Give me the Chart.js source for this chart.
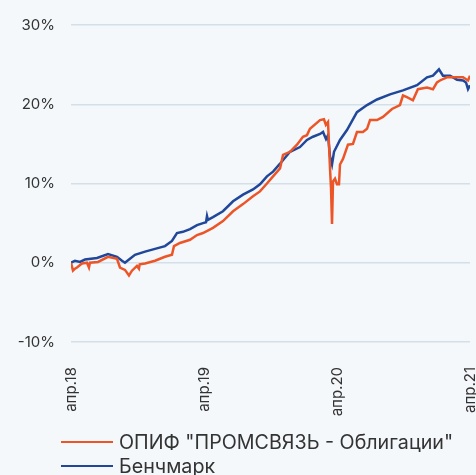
<!DOCTYPE html>
<html>
<head>
<meta charset="utf-8">
<script src="https://cdn.jsdelivr.net/npm/chart.js@4/dist/chart.umd.min.js"></script>
<style>
  html, body { margin: 0; padding: 0; background: #f4f8fb; }
  #wrap { position: relative; width: 476px; height: 475px; overflow: hidden; }
  #legend { position: absolute; left: 61px; top: 430px; font-family: Inter, "Noto Sans", sans-serif; font-size: 19.7px; color: #333; }
  .item { display: flex; align-items: center; height: 24px; white-space: nowrap; }
  .swatch { display: inline-block; width: 52px; height: 2px; margin-right: 6px; }
</style>
</head>
<body>
<div id="wrap">
  <canvas id="chart" width="476" height="475"></canvas>
  <div id="legend"></div>
</div>
<script>
// months since apr.18
let tickLabels = ["апр.18", "апр.19", "апр.20", "апр.21"];
let seriesNames = ['ОПИФ "ПРОМСВЯЗЬ - Облигации"', "Бенчмарк"];
let seriesColors = ["#ec5527", "#21479a"];

let fundMonths = [0, 0.18, 0.36, 0.54, 0.99, 1.44, 1.62, 1.71, 2.44, 3.34, 4.15, 4.42, 4.87, 5.23, 5.5, 5.95, 6.13, 6.2, 6.68, 7.58, 8.48, 9.11, 9.29, 9.83, 10.74, 11.37, 11.91, 12.81, 13.71, 14.62, 15.52, 16.42, 17.05, 17.68, 18.23, 18.86, 19.13, 19.76, 20.39, 20.93, 21.29, 21.56, 22.47, 22.82, 23.0, 23.19, 23.37, 23.46, 23.55, 23.64, 23.82, 24.0, 24.18, 24.27, 24.54, 24.99, 25.44, 25.8, 26.34, 26.71, 26.98, 27.61, 28.15, 28.96, 29.68, 29.95, 30.31, 30.85, 31.3, 32.12, 32.66, 33.02, 33.29, 33.92, 34.64, 35.37, 35.82, 36.0];
let fundValues = [0, -1.0, -0.75, -0.6, -0.1, 0.0, -0.6, 0.0, 0.1, 0.75, 0.5, -0.6, -0.9, -1.6, -1.0, -0.4, -0.75, -0.2, -0.1, 0.25, 0.75, 1.0, 2.1, 2.5, 2.9, 3.5, 3.75, 4.4, 5.25, 6.5, 7.4, 8.4, 9.0, 10.0, 10.9, 11.9, 13.6, 14.0, 14.9, 15.9, 16.1, 16.9, 18.0, 18.1, 17.4, 17.75, 11.9, 9.4, 4.9, 10.25, 10.6, 9.9, 9.9, 12.4, 13.1, 14.9, 15.0, 16.5, 16.5, 16.9, 18.0, 18.0, 18.4, 19.4, 19.9, 21.1, 20.9, 20.5, 21.9, 22.1, 21.9, 22.75, 23.0, 23.4, 23.4, 23.4, 23.0, 23.6];

let benchMonths = [0, 0.36, 0.81, 1.26, 2.35, 3.34, 4.15, 4.6, 4.87, 5.32, 5.77, 6.68, 7.58, 8.48, 9.11, 9.56, 10.1, 10.74, 11.37, 11.91, 12.18, 12.27, 12.36, 12.81, 13.71, 14.62, 15.52, 16.42, 17.05, 17.68, 18.23, 18.86, 19.76, 20.66, 21.29, 21.83, 22.47, 22.74, 23.01, 23.19, 23.37, 23.55, 23.73, 24.27, 24.9, 25.8, 26.71, 27.61, 28.78, 29.95, 31.22, 32.12, 32.66, 33.2, 33.56, 34.2, 34.83, 35.37, 35.64, 35.82, 36.0];
let benchValues = [0, 0.25, 0.1, 0.4, 0.6, 1.1, 0.75, 0.25, 0.0, 0.5, 1.0, 1.4, 1.75, 2.1, 2.75, 3.75, 3.9, 4.25, 4.75, 5.0, 5.1, 5.9, 5.4, 5.75, 6.5, 7.75, 8.6, 9.25, 9.9, 10.9, 11.5, 12.5, 14.0, 14.6, 15.5, 15.9, 16.25, 16.5, 15.6, 16.1, 13.4, 12.4, 14.0, 15.5, 16.75, 19.0, 19.9, 20.6, 21.25, 21.75, 22.4, 23.4, 23.6, 24.4, 23.6, 23.6, 23.1, 23.0, 22.75, 21.9, 22.4];

function toPoints(xs, ys) {
  return xs.map((x, i) => ({x: x, y: ys[i]}));
}

let font = "Inter, 'Noto Sans', sans-serif";

new Chart(document.getElementById("chart"), {
  type: "line",
  data: {
    datasets: [
      {label: seriesNames[0], data: toPoints(fundMonths, fundValues), borderColor: seriesColors[0], borderWidth: 2.5, pointRadius: 0, tension: 0},
      {label: seriesNames[1], data: toPoints(benchMonths, benchValues), borderColor: seriesColors[1], borderWidth: 2.5, pointRadius: 0, tension: 0}
    ]
  },
  options: {
    responsive: false,
    animation: false,
    layout: {padding: {top: 21, right: 6, bottom: 53, left: 0}},
    plugins: {legend: {display: false}, tooltip: {enabled: false}},
    scales: {
      x: {
        type: "linear", min: 0, max: 36,
        grid: {display: false},
        border: {display: false},
        ticks: {
          stepSize: 12, maxRotation: 90, minRotation: 90, padding: 17,
          color: "#333", font: {family: font, size: 15},
          callback: (v) => tickLabels[v / 12]
        },
        afterFit: (s) => { s.height = 80; s.paddingLeft = 0; s.paddingRight = 0; }
      },
      y: {
        min: -10, max: 30,
        grid: {color: "#d3e0ea", lineWidth: 1.5, drawTicks: false},
        border: {display: false},
        ticks: {
          stepSize: 10, padding: 16,
          color: "#333", font: {family: font, size: 15},
          callback: (v) => v + "%"
        },
        afterFit: (s) => { s.width = 71; }
      }
    }
  }
});

let legend = document.getElementById("legend");
seriesNames.forEach((name, i) => {
  legend.innerHTML += `<div class="item"><span class="swatch" style="background:${seriesColors[i]}"></span>${name}</div>`;
});
</script>
</body>
</html>
